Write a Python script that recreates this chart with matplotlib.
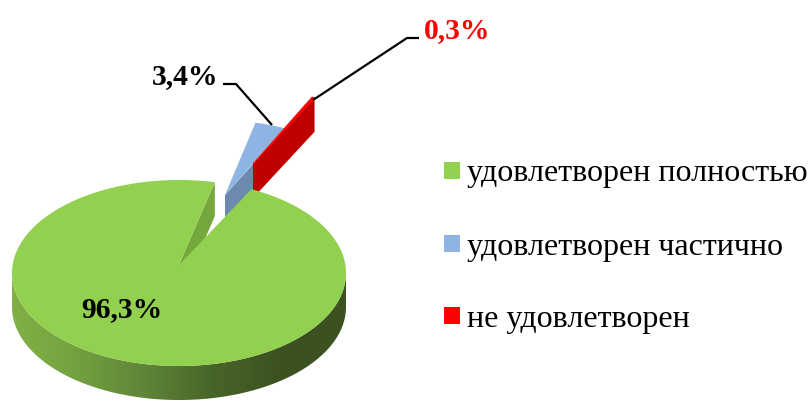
import numpy as np
import matplotlib
matplotlib.use("Agg")
import matplotlib.pyplot as plt
from matplotlib.patches import Polygon, Rectangle
from matplotlib.colors import LinearSegmentedColormap

categories = ["удовлетворен полностью", "удовлетворен частично", "не удовлетворен"]
values = [96.3, 3.4, 0.3]
labels = ["96,3%", "3,4%", "0,3%"]
colors = ["#92D050", "#8DB4E2", "#FF0000"]
wall_colors = ["#76A63E", "#6C8AB0", "#C00000"]

plt.rcParams["font.family"] = ["Liberation Serif", "DejaVu Serif"]
fig = plt.figure(figsize=(8.11, 4.01), dpi=100)
ax = fig.add_axes([0, 0, 1, 1])
ax.set_xlim(0, 811)
ax.set_ylim(401, 0)
ax.axis("off")

# pie geometry in pixels
cx, cy, rx, ry = 179, 273, 167, 93
apex_y = 265
depth = 34
start = 25.7  # clockwise from the top, degrees
fractions = np.array(values) / sum(values) * 360
edges = start + np.concatenate([[0], np.cumsum(fractions)])


def arc(a0, a1, ox=cx, oy=cy, scale=1.0, n=200):
    t = np.radians(np.linspace(a0, a1, n))
    return np.column_stack([ox + scale * rx * np.sin(t), oy - scale * ry * np.cos(t)])


# green body: side wall with a left-to-right gradient, clipped to the rim
front = arc(90, 270)
rim = np.vstack([front, front[::-1] + [0, depth]])
cmap = LinearSegmentedColormap.from_list(
    "rim", ["#82B046", "#72A03E", "#5F8438", "#486529", "#3B5220", "#3B5220"])
img = ax.imshow(np.linspace(0, 1, 256)[None, :], extent=(cx - rx, cx + rx, 401, 200),
                cmap=cmap, aspect="auto", zorder=1)
img.set_clip_path(Polygon(rim, transform=ax.transData))
ax.set_xlim(0, 811)
ax.set_ylim(401, 0)

# inner wall visible in the gap of the green slice
g_end = arc(edges[1], edges[1], n=1)[0]
ax.add_patch(Polygon([(cx, apex_y), g_end, g_end + [0, depth], (cx, apex_y + depth)],
                     closed=True, fc=wall_colors[0], ec="none", zorder=2))

# exploded slices
blue_apex = np.array([225.0, 195.0])
red_apex = np.array([253.0, 164.0])
piece_scale = 0.85
piece_shift = 5
blue_arc = arc(edges[1], edges[2], blue_apex[0], blue_apex[1] + piece_shift, piece_scale)
red_arc = arc(edges[2], edges[3], red_apex[0], red_apex[1] + piece_shift, piece_scale)

ax.add_patch(Polygon([blue_apex, red_apex, red_apex + [0, depth], blue_apex + [0, depth]],
                     closed=True, fc=wall_colors[1], ec="none", zorder=3))
ax.add_patch(Polygon(np.vstack([[blue_apex], blue_arc]), closed=True,
                     fc=colors[1], ec="none", zorder=4))
tip = red_arc[-1]
ax.add_patch(Polygon([red_apex, tip, tip + [0, depth], red_apex + [0, depth]],
                     closed=True, fc=wall_colors[2], ec="none", zorder=4))
ax.add_patch(Polygon(np.vstack([[red_apex], red_arc]), closed=True,
                     fc=colors[2], ec=colors[2], lw=0.8, zorder=5))

# green top face over everything behind it
top = np.vstack([[(cx, apex_y)], arc(edges[0], edges[1], n=400)])
ax.add_patch(Polygon(top, closed=True, fc=colors[0], ec="none", zorder=6))

# value labels and leaders
lab_font = dict(fontweight="bold", fontsize=21.3, va="center", zorder=8)
ax.text(122, 310, labels[0], ha="center", color="black", **lab_font)
ax.text(185, 77, labels[1], ha="center", color="black", **lab_font)
ax.text(457, 31, labels[2], ha="center", color="#FF0000", **lab_font)
ax.plot([223, 236, 272], [84, 84, 125], color="black", lw=1.6, zorder=7, solid_capstyle="butt")
ax.plot([419, 407, 313], [38, 38, 100], color="black", lw=1.6, zorder=7, solid_capstyle="butt")

# legend
for my, ty, c, name in zip([171, 244, 316], [174, 248, 320], colors, categories):
    ax.add_patch(Rectangle((444, my - 9), 16, 17, fc=c, ec="none", zorder=8))
    ax.text(467, ty, name, ha="left", va="center", fontsize=23, color="black", zorder=8)

fig.savefig("out.png", dpi=100)
